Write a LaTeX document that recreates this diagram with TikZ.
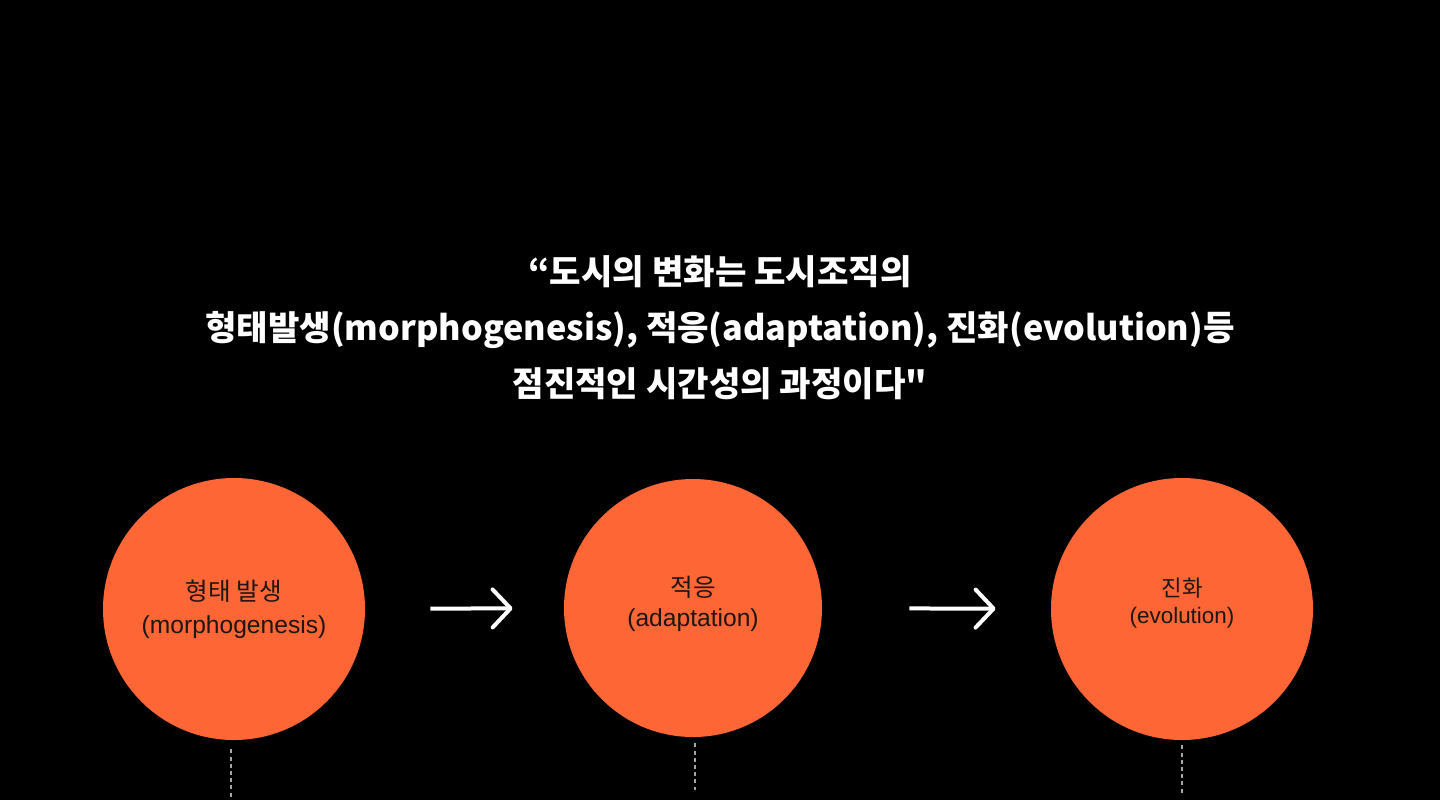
\documentclass[tikz,border=0pt]{standalone}
\usepackage{fontspec}
\setmainfont{Liberation Sans}
\newfontfamily\kr{Noto Sans CJK KR}
\usetikzlibrary{arrows.meta,calc}

\definecolor{blobfill}{RGB}{255,102,54}
\definecolor{blobtext}{RGB}{30,22,18}

\tikzset{
  blob/.style={circle,fill=blobfill,minimum size=131pt,inner sep=0pt,
    text=blobtext,align=center,font=\fontsize{12.3}{16.5}\selectfont},
  flow/.style={draw=white,line width=2pt,
    -{Straight Barb[length=9pt,width=19pt,round]}},
  stem/.style={draw=gray!70,line width=0.6pt,dash pattern=on 2pt off 1.6pt},
  quote/.style={text=white,align=center,font=\kr\bfseries\fontsize{17.1}{28}\selectfont}
}

\begin{document}
\begin{tikzpicture}[x=0.5pt,y=-0.5pt]
  \fill[black] (0,0) rectangle (1440,800);
  \useasboundingbox (0,0) rectangle (1440,800);

  % quotation
  \node[quote] (quote) at (720,328)
    {“도시의 변화는 도시조직의\\
     형태발생(morphogenesis), 적응(adaptation), 진화(evolution)등\\
     점진적인 시간성의 과정이다"};

  % three stages
  \node[blob] (morph) at (234,609) {{\kr 형태 발생}\\(morphogenesis)};
  \node[blob,minimum size=129pt,text depth=7pt,font=\fontsize{12.3}{15}\selectfont] (adapt) at (693,608) {{\kr 적응}\\(adaptation)};
  \node[blob,text depth=8pt,font=\fontsize{11.2}{13.5}\selectfont] (evol) at (1182,609) {{\kr 진화}\\(evolution)};

  \draw[flow,shorten <=32.5pt,shorten >=25.5pt] (morph) -- (adapt);
  \draw[flow,shorten <=43.5pt,shorten >=27.5pt] (adapt) -- (evol);

  % dotted stems
  \draw[stem] ($(morph.south)+(-3,9)$) -- ++(0,48);
  \draw[stem] ($(adapt.south)+(2,6)$) -- ++(0,47);
  \draw[stem] ($(evol.south)+(0,5)$) -- ++(0,48);
\end{tikzpicture}
\end{document}
